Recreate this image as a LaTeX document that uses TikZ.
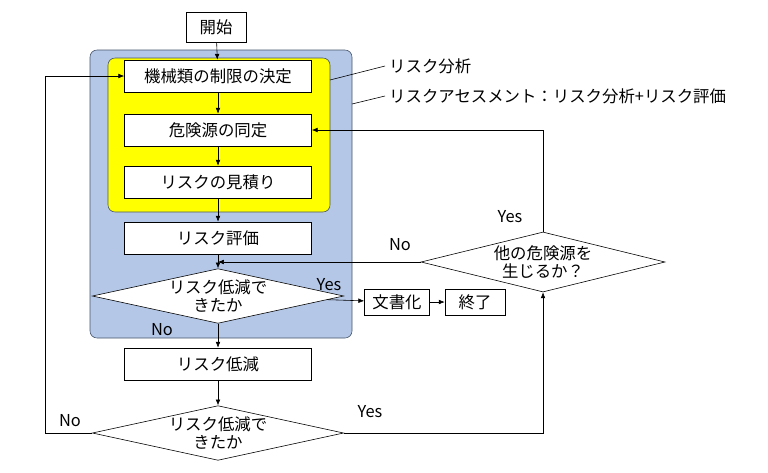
\documentclass[tikz,border=0pt]{standalone}
\usepackage{fontspec}
\setmainfont{Noto Sans CJK JP}
\usetikzlibrary{shapes.geometric,arrows.meta}
\definecolor{bleu}{HTML}{B4C7E7}
\definecolor{jaune}{HTML}{FFFF00}
\definecolor{bord}{HTML}{44546A}
\newcommand{\taille}{\fontsize{14}{16}\selectfont}
\tikzset{
  boite/.style={draw,fill=white,minimum width=187*0.03cm,minimum height=32*0.03cm,inner sep=1pt,font=\taille},
  losange/.style={draw,fill=white,diamond,aspect=4.6,minimum width=244*0.03cm,minimum height=54*0.03cm,inner sep=0pt,align=center,font=\taille},
  fl/.style={-{Latex[length=5pt,width=4pt]}},
  lab/.style={font=\taille}
}
\begin{document}
\begin{tikzpicture}[x=0.03cm,y=-0.03cm,line width=0.5pt]
\useasboundingbox (0,0) rectangle (768,472);
\filldraw[fill=bleu,draw=bord,rounded corners=6pt] (90,50) rectangle (352,338); %bloc appreciation
\filldraw[fill=jaune,draw=bord,rounded corners=6pt] (108,58) rectangle (330,212); %bloc analyse

\node[boite,minimum width=60*0.03cm,minimum height=30*0.03cm] (debut) at (216,27) {開始};
\node[boite] (limite) at (218,76) {機械類の制限の決定};
\node[boite] (danger) at (218,130) {危険源の同定};
\node[boite] (estim) at (218,182) {リスクの見積り};
\node[boite] (eval) at (218,238) {リスク評価};
\node[losange] (q1) at (218,296) {リスク低減で\\きたか};
\node[boite,minimum width=65*0.03cm,minimum height=26*0.03cm] (doc) at (397,302) {文書化};
\node[boite,minimum width=60*0.03cm,minimum height=26*0.03cm] (fin) at (475,302) {終了};
\node[boite] (reduc) at (218,364) {リスク低減};
\node[losange] (q2) at (218,433) {リスク低減で\\きたか};
\node[losange,minimum height=60*0.03cm,aspect=4] (q3) at (543,262) {他の危険源を\\生じるか？};

\node[lab,anchor=west] (tana) at (385,66) {リスク分析};
\node[lab,anchor=west] (tass) at (385,96) {リスクアセスメント：リスク分析+リスク評価};
\draw (330,80) -- (tana.west);
\draw (352,104) -- (tass.west);

\draw[fl] (debut) -- (limite);
\draw[fl] (limite) -- (danger);
\draw[fl] (danger) -- (estim);
\draw[fl] (estim) -- (eval);
\draw[fl] (eval) -- (q1);
\draw[fl] (q1) -- (doc);
\draw[fl] (doc) -- (fin);
\draw[fl] (q1) -- (reduc);
\draw[fl] (reduc) -- (q2);
\draw[fl] (q2.west) -- (45,433) -- (45,76) -- (limite.west);
\draw[fl] (q2.east) -- (q2.east -| q3.south) -- (q3.south);
\draw[fl] (q3.north) -- (q3.north |- danger.east) -- (danger.east);
\coordinate (jonction) at (218,262);
\draw[fl] (q3.west) -- (jonction);

\node[lab] at (329,285) {Yes};
\node[lab] at (162,330) {No};
\node[lab] at (70,421) {No};
\node[lab] at (370,412) {Yes};
\node[lab] at (510,217) {Yes};
\node[lab] at (400,245) {No};
\end{tikzpicture}
\end{document}
